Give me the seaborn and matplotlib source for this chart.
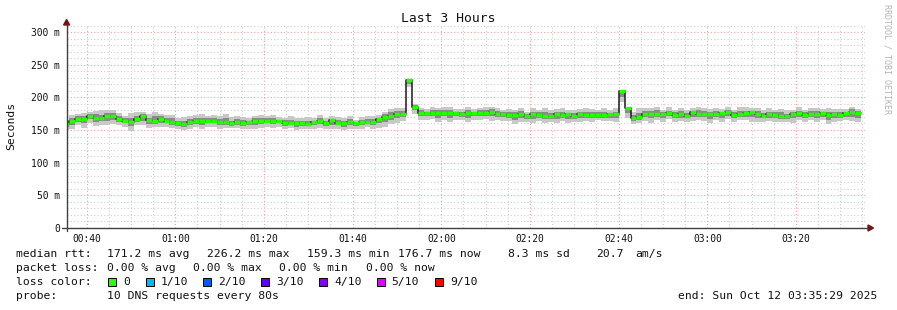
import numpy as np
import matplotlib
matplotlib.use("Agg")
import matplotlib.pyplot as plt
import seaborn as sns
from matplotlib.patches import Rectangle, Polygon
from matplotlib.lines import Line2D
from matplotlib.ticker import MultipleLocator, FuncFormatter

# ---------------- data (ms), one value per 80 s step ----------------
median_ms = [
    159, 164, 167, 167, 172, 169, 168, 172, 171, 167, 164, 163, 167, 172, 165,
    164, 167, 164, 163, 160, 159.3, 163, 164, 164, 164, 164, 162, 163, 160.5, 163,
    160, 162, 164, 164, 164, 164, 164, 161, 161, 160, 160, 159.5, 162, 164, 160,
    165, 161, 160, 162, 160, 162, 163, 163, 167, 170, 172, 175, 175, 226.2, 186,
    176, 176, 176, 176, 176, 176, 176, 174, 176, 176, 176, 176, 178, 175, 175,
    173, 173, 174, 172, 174, 173, 172, 172, 174, 173, 174, 172, 174, 173, 173,
    173, 173, 174, 174, 209, 183, 168, 170, 175, 175, 175, 175, 175.5, 173, 174,
    172, 177, 175, 175, 174, 174, 175.5, 177, 173, 174, 175.5, 177, 174, 172, 174,
    173, 172, 171, 175, 175.5, 173, 174, 175, 175.5, 173, 174, 173, 175.5, 177.5, 176.7,
]
# distance (ms) from the median to the lowest / highest ping of each step
outer_dn = [
    9, 12, 10, 14, 11, 13, 10, 15, 12, 10, 9, 14, 10, 15, 12,
    10, 13, 9, 10, 8, 9, 11, 10, 13, 10, 9, 11, 10, 8, 10,
    9, 10, 13, 11, 10, 11, 9, 10, 8, 10, 9, 8, 10, 11, 9,
    13, 9, 10, 11, 9, 10, 8, 11, 14, 15, 13, 14, 11, 10, 12,
    10, 11, 9, 13, 10, 14, 11, 9, 13, 10, 11, 9, 14, 10, 11,
    9, 14, 11, 10, 13, 9, 11, 10, 13, 9, 14, 10, 11, 9, 10,
    8, 9, 10, 11, 16, 14, 9, 10, 11, 14, 10, 13, 9, 11, 10,
    9, 13, 10, 11, 14, 9, 13, 10, 11, 9, 10, 14, 11, 9, 10,
    11, 10, 9, 14, 10, 11, 9, 13, 10, 14, 11, 9, 10, 14, 15,
]
outer_up = [
    6, 9, 8, 9, 6, 10, 12, 8, 10, 9, 8, 13, 10, 6, 9,
    14, 8, 9, 10, 9, 11, 8, 9, 10, 8, 9, 10, 11, 9, 8,
    10, 6, 8, 9, 8, 9, 6, 8, 10, 9, 8, 10, 6, 9, 8,
    6, 9, 8, 10, 6, 8, 9, 8, 6, 8, 10, 9, 8, 2, 4,
    8, 6, 9, 8, 10, 9, 6, 8, 9, 6, 8, 10, 8, 9, 6,
    9, 8, 10, 6, 9, 8, 12, 9, 8, 10, 6, 9, 8, 10, 9,
    8, 10, 6, 9, 2, 3, 10, 13, 9, 8, 10, 6, 9, 8, 10,
    9, 6, 10, 9, 8, 10, 6, 9, 8, 12, 9, 6, 10, 8, 9,
    8, 10, 9, 6, 9, 8, 10, 9, 6, 10, 8, 9, 6, 8, 6,
]
# distance (ms) from the median to the inner (darker) smoke band
mid_dn = [
    4, 6, 5, 7, 5, 6, 4, 8, 6, 4, 4, 7, 5, 8, 6,
    5, 7, 4, 5, 4, 4, 5, 5, 7, 4, 4, 5, 5, 4, 5,
    4, 5, 7, 5, 4, 5, 4, 5, 4, 5, 4, 4, 5, 5, 4,
    7, 4, 5, 5, 4, 5, 4, 5, 7, 8, 7, 7, 5, 6, 6,
    5, 5, 4, 7, 5, 7, 5, 4, 7, 5, 5, 4, 7, 5, 5,
    4, 7, 5, 5, 7, 4, 5, 5, 7, 4, 7, 5, 5, 4, 5,
    4, 4, 5, 5, 9, 7, 4, 5, 5, 7, 5, 7, 4, 5, 5,
    4, 7, 5, 5, 7, 4, 7, 5, 5, 4, 5, 7, 5, 4, 5,
    5, 5, 4, 7, 5, 5, 4, 7, 5, 7, 5, 4, 5, 7, 8,
]
mid_up = [
    3, 4, 4, 5, 2, 5, 5, 4, 5, 4, 4, 6, 5, 2, 4,
    7, 4, 4, 5, 4, 5, 4, 4, 5, 4, 4, 5, 5, 4, 4,
    5, 2, 4, 4, 4, 4, 2, 4, 5, 4, 4, 5, 2, 4, 4,
    2, 4, 4, 5, 2, 4, 4, 4, 2, 4, 5, 4, 4, 1, 2,
    4, 2, 4, 4, 5, 4, 2, 4, 4, 2, 4, 5, 4, 4, 2,
    4, 4, 5, 2, 4, 4, 5, 4, 4, 5, 2, 4, 4, 5, 4,
    4, 5, 2, 4, 1, 1, 5, 6, 4, 4, 5, 2, 4, 4, 5,
    4, 2, 5, 4, 4, 5, 2, 4, 4, 5, 4, 2, 5, 4, 4,
    4, 5, 4, 2, 4, 4, 5, 4, 2, 5, 4, 4, 2, 4, 3,
]

loss_labels = ["0", "1/10", "2/10", "3/10", "4/10", "5/10", "9/10"]
loss_colors = ["#26ff00", "#00b8ff", "#0059ff", "#5e00ff", "#7e00ff", "#dd00ff", "#ff0000"]

title = "Last 3 Hours"
ylabel = "Seconds"
rtt_stats = ["171.2 ms avg", "226.2 ms max", "159.3 ms min", "176.7 ms now", "8.3 ms sd", "20.7", "am/s"]
loss_stats = ["0.00 % avg", "0.00 % max", "0.00 % min", "0.00 % now"]
probe_text = "10 DNS requests every 80s"
end_text = "end: Sun Oct 12 03:35:29 2025"

# ---------------- time axis (minutes after midnight) ----------------
START_MIN = 35 + 29 / 60.0
SPAN_MIN = 180.0
STEP_MIN = 80 / 60.0
FIRST_EDGE = START_MIN - 0.8

med = np.array(median_ms, dtype=float)
n = len(med)
edges = FIRST_EDGE + STEP_MIN * np.arange(n + 1)


def ext(a):
    a = np.asarray(a, dtype=float)
    return np.append(a, a[-1])


# ---------------- figure ----------------
sns.set_style("white")
plt.rcParams["font.family"] = ["DejaVu Sans Mono", "DejaVu Sans"]

W, H = 897, 310
fig = plt.figure(figsize=(W / 100, H / 100), dpi=100)
fig.patch.set_facecolor("white")


def fx(px):
    return px / W


def fy(py):
    return 1 - py / H


ax_left, ax_right, ax_bottom, ax_top = 66.6, 864.6, 228.0, 25.5
ax = fig.add_axes([fx(ax_left), fy(ax_bottom), (ax_right - ax_left) / W, (ax_bottom - ax_top) / H])
ax.set_facecolor("white")
ax.set_xlim(START_MIN, START_MIN + SPAN_MIN)
ax.set_ylim(0, 310)

# grid
ax.xaxis.set_major_locator(MultipleLocator(20))
ax.xaxis.set_minor_locator(MultipleLocator(5))
ax.yaxis.set_major_locator(MultipleLocator(50))
ax.yaxis.set_minor_locator(MultipleLocator(10))
ax.set_axisbelow(True)
ax.grid(which="minor", color="#cfcfcf", linestyle=(0, (1, 2)), linewidth=0.8)
ax.grid(which="major", color="#f4a0a0", linestyle=(0, (1, 2)), linewidth=0.8)

ax.xaxis.set_major_formatter(FuncFormatter(lambda v, p: f"{int(round(v)) // 60:02d}:{int(round(v)) % 60:02d}"))
ax.yaxis.set_major_formatter(FuncFormatter(lambda v, p: "0" if v == 0 else f"{int(v)} m"))

for s in ax.spines.values():
    s.set_visible(False)

ax.tick_params(axis="x", which="major", direction="out", length=2.5, width=0.8, color="#f4a0a0",
               labelsize=6.9, pad=2.0, labelcolor="#111111")
ax.tick_params(axis="x", which="minor", direction="out", length=1.5, width=0.6, color="#bbbbbb")
ax.tick_params(axis="y", which="major", direction="out", length=2.5, width=0.8, color="#444444",
               labelsize=6.9, pad=2.5, labelcolor="#111111")
ax.tick_params(axis="y", which="minor", length=0)

# smoke
ax.fill_between(edges, ext(med - np.array(outer_dn)), ext(med + np.array(outer_up)),
                step="post", color="#c8c8c8", linewidth=0, zorder=2)
ax.fill_between(edges, ext(med - np.array(mid_dn)), ext(med + np.array(mid_up)),
                step="post", color="#8a8a8a", linewidth=0, zorder=3)

# median line (black step) and loss-coloured segments
sns.lineplot(x=edges, y=ext(med), drawstyle="steps-post", color="#1a1a1a", linewidth=1.1,
             estimator=None, sort=False, ax=ax, zorder=4)
ax.hlines(med, edges[:-1], edges[1:], colors=loss_colors[0], linewidth=2.5, zorder=5)

# axis lines with arrows
axis_col = "#404040"
fig.add_artist(Line2D([fx(ax_left), fx(ax_left)], [fy(231), fy(24)], color=axis_col, lw=1.0))
fig.add_artist(Line2D([fx(62), fx(868)], [fy(ax_bottom), fy(ax_bottom)], color=axis_col, lw=1.0))
arrow_col = "#7a1010"
fig.add_artist(Polygon([[fx(ax_left - 3), fy(25)], [fx(ax_left + 3), fy(25)], [fx(ax_left), fy(19.5)]],
                       closed=True, color=arrow_col, transform=fig.transFigure))
fig.add_artist(Polygon([[fx(868), fy(ax_bottom - 3)], [fx(868), fy(ax_bottom + 3)], [fx(873.5), fy(ax_bottom)]],
                       closed=True, color=arrow_col, transform=fig.transFigure))

# titles
fig.text(fx(448), fy(19), title, ha="center", va="center", fontsize=9.4, color="#111111")
fig.text(fx(11), fy(126), ylabel, ha="center", va="center", rotation=90, fontsize=8.2, color="#111111")
fig.text(fx(887), fy(4), "RRDTOOL / TOBI OETIKER", ha="center", va="top", rotation=270,
         fontsize=6.0, color="#b4b4b4")

# legend
fs = 8.2
tc = "#111111"
rows_y = [254.3, 268.3, 282.3, 296.0]
fig.text(fx(16), fy(rows_y[0]), "median rtt:", ha="left", va="center", fontsize=fs, color=tc)
for txt, xp in zip(rtt_stats, [107.3, 207.3, 306.7, 398.3, 507.7, 596.0, 635.0]):
    fig.text(fx(xp), fy(rows_y[0]), txt, ha="left", va="center", fontsize=fs, color=tc)

fig.text(fx(16), fy(rows_y[1]), "packet loss:", ha="left", va="center", fontsize=fs, color=tc)
for txt, xp in zip(loss_stats, [107.3, 193.3, 279.3, 365.7]):
    fig.text(fx(xp), fy(rows_y[1]), txt, ha="left", va="center", fontsize=fs, color=tc)

fig.text(fx(16), fy(rows_y[2]), "loss color:", ha="left", va="center", fontsize=fs, color=tc)
box_x = [108.3, 145.7, 203.3, 261.0, 319.0, 376.7, 435.0]
for lab, col, bx in zip(loss_labels, loss_colors, box_x):
    fig.add_artist(Rectangle((fx(bx), fy(rows_y[2] + 4)), 8 / W, 8 / H, transform=fig.transFigure,
                             facecolor=col, edgecolor="#000000", linewidth=0.7))
    fig.text(fx(bx + 15), fy(rows_y[2]), lab, ha="left", va="center", fontsize=fs, color=tc)

fig.text(fx(16), fy(rows_y[3]), "probe:", ha="left", va="center", fontsize=fs, color=tc)
fig.text(fx(107.3), fy(rows_y[3]), probe_text, ha="left", va="center", fontsize=fs, color=tc)
fig.text(fx(678.3), fy(rows_y[3]), end_text, ha="left", va="center", fontsize=fs, color=tc)

fig.savefig("out.png", dpi=100, facecolor="white")
